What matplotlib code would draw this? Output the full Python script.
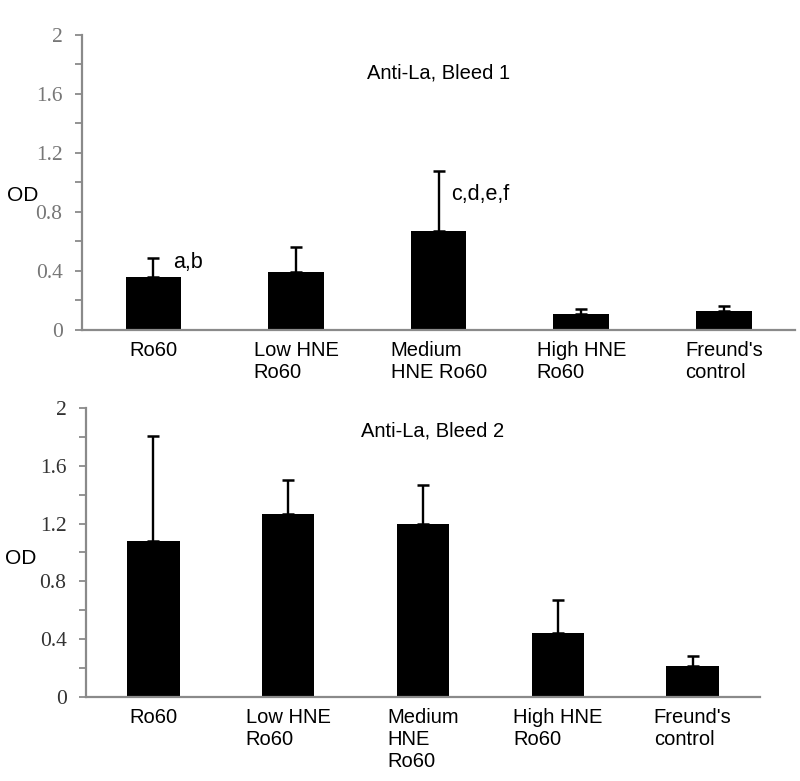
import matplotlib
matplotlib.use('Agg')
import matplotlib.pyplot as plt
from matplotlib.ticker import MultipleLocator

# ============================================================
# 数据
# ============================================================
labels_b1 = ['Ro60', 'Low HNE\nRo60', 'Medium\nHNE Ro60', 'High HNE\nRo60', "Freund's\ncontrol"]
labels_b2 = ['Ro60', 'Low HNE\nRo60', 'Medium\nHNE\nRo60', 'High HNE\nRo60', "Freund's\ncontrol"]

od_b1 = [0.36, 0.39, 0.67, 0.11, 0.13]
err_b1 = [0.13, 0.17, 0.41, 0.035, 0.03]

od_b2 = [1.08, 1.27, 1.20, 0.44, 0.21]
err_b2 = [0.73, 0.23, 0.27, 0.23, 0.07]

yticks = [0, 0.4, 0.8, 1.2, 1.6, 2]
ytick_labels = ['0', '0.4', '0.8', '1.2', '1.6', '2']

sans = 'Liberation Sans'
serif = 'Liberation Serif'
axis_gray = '#8a8a8a'

fig = plt.figure(figsize=(8.0, 7.81), dpi=100)


def draw_panel(rect, values, errors, labels, title, title_xy, tick_color):
    ax = fig.add_axes(rect)
    x = list(range(len(values)))
    ax.bar(x, values, width=0.39, color='black', zorder=2)
    ax.errorbar(x, values, yerr=[[0] * len(errors), errors], fmt='none',
                ecolor='black', elinewidth=1.7, capsize=4, capthick=1.8, zorder=3)
    ax.set_xlim(-0.5, 4.5)
    ax.set_ylim(0, 2)
    ax.set_yticks(yticks)
    ax.set_yticklabels(ytick_labels, fontfamily=serif, fontsize=15.5, color=tick_color)
    ax.yaxis.set_minor_locator(MultipleLocator(0.2))
    ax.tick_params(axis='y', which='both', direction='out', length=5, width=1.3,
                   color=axis_gray, pad=9)
    ax.set_xticks(x)
    ax.set_xticklabels(labels, fontfamily=sans, fontsize=14.5, multialignment='left')
    ax.tick_params(axis='x', length=0, pad=8)
    for s in ['top', 'right']:
        ax.spines[s].set_visible(False)
    for s in ['left', 'bottom']:
        ax.spines[s].set_color(axis_gray)
        ax.spines[s].set_linewidth(1.6)
    ax.text(title_xy[0], title_xy[1], title, ha='center', va='center',
            fontfamily=sans, fontsize=14.5)
    return ax


# 上图：Bleed 1
ax1 = draw_panel([0.1025, 0.5775, 0.8915, 0.3777], od_b1, err_b1, labels_b1,
                 'Anti-La, Bleed 1', (2.0, 1.74), '#777777')
ax1.text(0.14, 0.46, 'a,b', ha='left', va='center', fontfamily=sans, fontsize=15.5)
ax1.text(2.09, 0.92, 'c,d,e,f', ha='left', va='center', fontfamily=sans, fontsize=15.5)
fig.text(0.009, 0.750, 'OD', ha='left', va='center', fontfamily=sans, fontsize=15)

# 下图：Bleed 2
ax2 = draw_panel([0.1075, 0.108, 0.8425, 0.3692], od_b2, err_b2, labels_b2,
                 'Anti-La, Bleed 2', (2.07, 1.84), '#333333')
fig.text(0.006, 0.2855, 'OD', ha='left', va='center', fontfamily=sans, fontsize=15)

fig.savefig('out.png', dpi=100)
